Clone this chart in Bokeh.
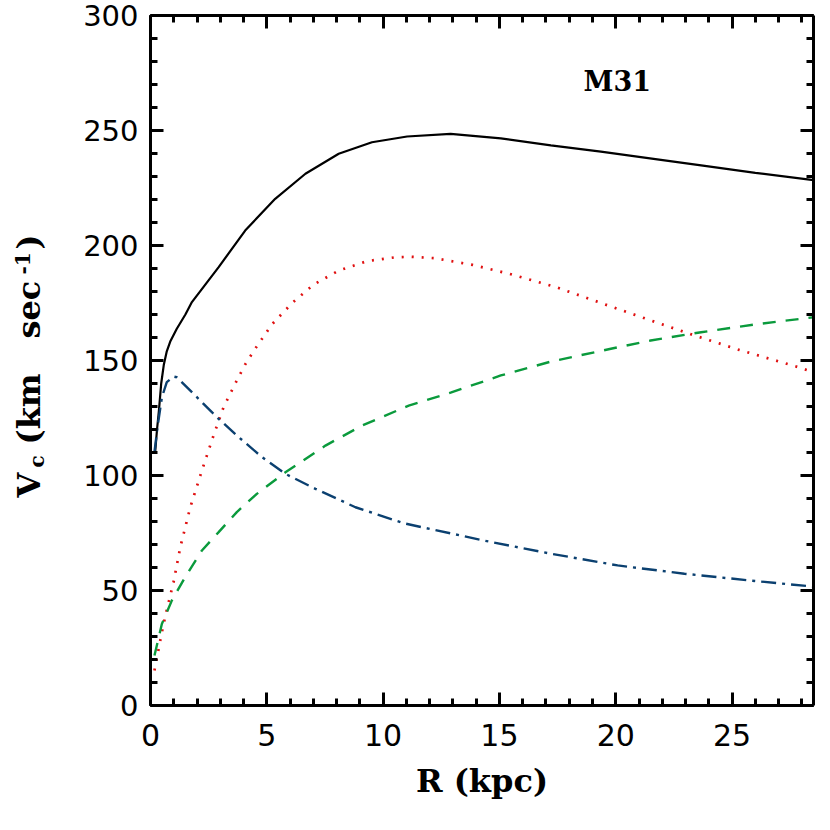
import math
from bokeh.plotting import figure
from bokeh.layouts import row
from bokeh.models import (Range1d, LinearAxis, SingleIntervalTicker, Label, CustomJSTickFormatter,
                          ColumnDataSource)
from bokeh.core.properties import value
from bokeh.embed import file_html
from bokeh.resources import INLINE

# ---- data ----
R_total = [0.2, 0.28, 0.36, 0.46, 0.57, 0.7, 0.86, 1.13, 1.5, 1.78, 2.93, 4.07, 5.36, 6.66, 8.09,
           9.52, 11.03, 12.9, 15.06, 17.21, 19.36, 21.94, 23.67, 26.0, 28.5]
V_total = [110, 120, 128, 140, 148, 154, 158.5, 163.8, 170, 175.4, 190.6, 206.5, 220.3, 231.2, 239.9,
           244.9, 247.4, 248.5, 246.6, 243.5, 240.8, 237.2, 234.8, 231.6, 228.4]

R_disk = [0.17, 0.49, 0.66, 0.99, 1.28, 1.71, 2.21, 2.71, 3.14, 3.71, 4.07, 4.5, 5.22, 6.08, 7.01,
          8.09, 9.31, 10.53, 11.2, 12.19, 13.84, 15.42, 17.43, 19.79, 21.4, 23.38, 25.31, 27.75, 28.5]
V_disk = [15.2, 31.9, 39.9, 53.6, 68.8, 86.2, 102.2, 117.4, 129.7, 141.3, 148.3, 155.1, 165.7, 174.9, 183,
          189.1, 193.2, 194.9, 195.1, 194.5, 191.6, 187.7, 181.9, 173.5, 167.8, 160.9, 154.6, 147.4, 144.9]

R_halo = [0.17, 0.49, 0.92, 1.49, 2.21, 2.93, 3.71, 4.57, 5.8, 7.52, 9.09, 11.1, 12.9, 15.06, 17.2,
          19.79, 21.5, 23.67, 26.0, 28.5]
V_halo = [21.7, 35.5, 45.7, 55.8, 67.4, 75.4, 84.1, 92, 101.4, 113, 121.7, 130.4, 136, 143.5, 149.5,
          155.1, 158.7, 162.3, 165.7, 168.8]

R_bulge = [0.17, 0.31, 0.49, 0.7, 1.0, 1.13, 2.07, 2.93, 3.79, 4.79, 5.8, 7.09, 8.81, 10.9, 14.34,
           17.21, 20.08, 22.95, 25.82, 28.5]
V_bulge = [110.1, 121.7, 134, 140.6, 143, 142.7, 133.3, 124.6, 116.7, 108, 100.7, 94.2, 86.2, 79.2, 71.7,
           66, 60.9, 57.3, 54.3, 51.7]

x_label = "R (kpc)"
title_text = "M31"
y_title_pieces = ["V", "c", "(km", "sec", "-1", ")"]

X_MAX, Y_MAX = 28.5, 300
FRAME_W, FRAME_H = 663, 690
LEFT, TOP, BOTTOM = 150, 15, 125
TITLE_W = 60
TOTAL_H = TOP + FRAME_H + BOTTOM

TICK_FONT = "DejaVu Sans"
TITLE_FONT = "DejaVu Serif"

# ---- main figure ----
p = figure(frame_width=FRAME_W, frame_height=FRAME_H,
           x_range=Range1d(0, X_MAX), y_range=Range1d(0, Y_MAX),
           x_axis_type=None, y_axis_type=None,
           output_backend="svg", toolbar_location=None,
           min_border_left=LEFT - TITLE_W, min_border_top=TOP, min_border_right=12,
           min_border_bottom=BOTTOM, align="start")
p.outline_line_color = None
p.background_fill_color = "white"
p.border_fill_color = "white"


def style_axis(ax, interval, show_labels, standoff, fsize="29px"):
    ax.ticker = SingleIntervalTicker(interval=interval, num_minor_ticks=5)
    ax.axis_line_width = 3
    ax.axis_line_color = "black"
    ax.major_tick_line_width = 3
    ax.minor_tick_line_width = 3
    ax.major_tick_in = 13
    ax.major_tick_out = 0
    ax.minor_tick_in = 7
    ax.minor_tick_out = 0
    ax.major_tick_line_color = "black"
    ax.minor_tick_line_color = "black"
    if show_labels:
        ax.major_label_text_font = TICK_FONT
        ax.major_label_text_font_size = fsize
        ax.major_label_text_color = "black"
        ax.major_label_standoff = standoff
    else:
        ax.formatter = CustomJSTickFormatter(code="return ''")
        ax.major_label_text_font_size = "0px"
        ax.major_label_standoff = 0


xb = LinearAxis()
style_axis(xb, 5, True, 18, "30px")
xb.axis_label = x_label
xb.axis_label_text_font = TITLE_FONT
xb.axis_label_text_font_style = "bold"
xb.axis_label_text_font_size = "32px"
xb.axis_label_text_color = "black"
xb.axis_label_standoff = 13
p.add_layout(xb, "below")

yl = LinearAxis()
style_axis(yl, 50, True, 12, "29px")
p.add_layout(yl, "left")

xt = LinearAxis()
style_axis(xt, 5, False, 0)
p.add_layout(xt, "above")

yr = LinearAxis()
style_axis(yr, 50, False, 0)
p.add_layout(yr, "right")

# ---- curves ----
p.line(R_total, V_total, line_color="black", line_width=2.2)
p.line(R_disk, V_disk, line_color="#e01010", line_width=2.7, line_dash="2 8")
p.line(R_halo, V_halo, line_color="#0a9a3c", line_width=2.4, line_dash="13 10")
p.line(R_bulge, V_bulge, line_color="#0b4070", line_width=2.4, line_dash="15 6 3 6")


def dx(px):
    return (px - LEFT) * X_MAX / FRAME_W


def dy(py):
    return (TOP + FRAME_H - py) * Y_MAX / FRAME_H


p.add_layout(Label(x=dx(583), y=dy(81), text=title_text,
                   text_font=TITLE_FONT, text_font_style="bold", text_font_size="27px",
                   text_color="black", text_baseline="alphabetic", text_align="left"))

# ---- narrow figure holding the rotated y-axis title: V_c (km sec^-1) ----
t = figure(title=None, frame_width=TITLE_W, frame_height=TOTAL_H,
           x_range=Range1d(0, TITLE_W), y_range=Range1d(0, TOTAL_H),
           x_axis_type=None, y_axis_type=None, output_backend="svg", toolbar_location=None,
           min_border=0, min_border_left=0, min_border_right=0, min_border_top=0,
           min_border_bottom=0, align="start")
t.outline_line_color = None
t.background_fill_color = "white"
t.border_fill_color = "white"

# anchor positions (page pixels) of each piece
piece_px = [28, 36, 28, 28, 22, 28]
piece_py = [482, 452, 429, 323, 259, 234]
piece_fs = ["32px", "20px", "32px", "32px", "20px", "32px"]
src = ColumnDataSource(dict(x=piece_px, y=[TOTAL_H - v for v in piece_py],
                            text=y_title_pieces, fs=piece_fs))
t.text(x="x", y="y", text="text", source=src, angle=math.pi / 2,
       text_font=value(TITLE_FONT), text_font_style="bold", text_font_size="fs",
       text_color="black", text_baseline="alphabetic", text_align="left")

layout = row(t, p, spacing=0)
open("out.html", "w").write(file_html(layout, INLINE))
